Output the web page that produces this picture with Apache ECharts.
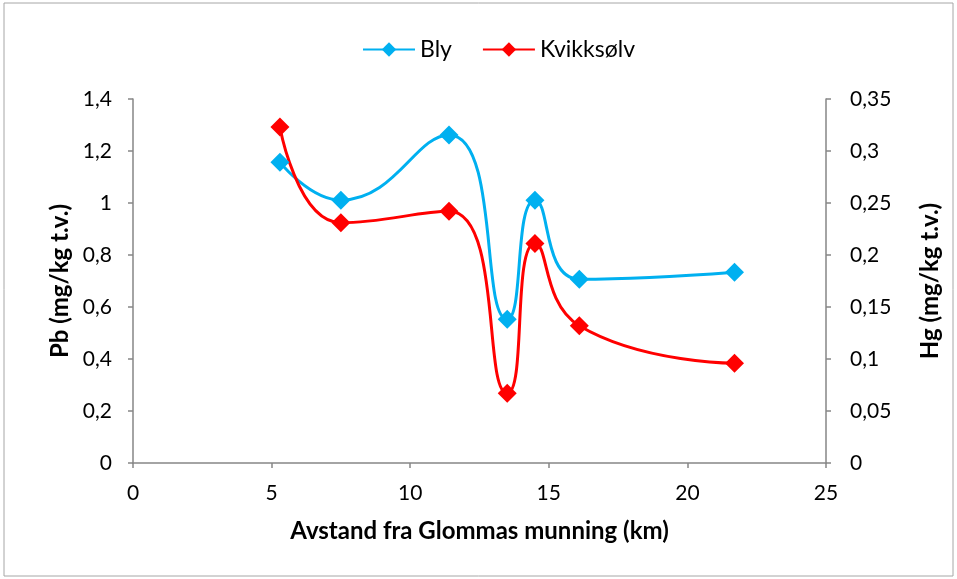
<!DOCTYPE html>
<html lang="no">
<head>
    <meta charset="UTF-8">
    <title>Bly og kvikksølv</title>
    <style>
        html, body { margin: 0; padding: 0; background: #fff; }
        #chart { width: 957px; height: 579px; }
    </style>
</head>
<body>
<div id="chart"></div>
<script src="https://cdn.jsdelivr.net/npm/echarts@6/dist/echarts.min.js"></script>
<script>
    // avstand (km) og konsentrasjoner lest av figuren
    var distance = [5.3, 7.5, 11.4, 13.5, 14.5, 16.1, 21.7];
    var pb = [1.157, 1.011, 1.262, 0.553, 1.011, 0.707, 0.734];
    var hg = [0.323, 0.231, 0.242, 0.067, 0.211, 0.132, 0.096];

    var font = 'Lato, "Open Sans", sans-serif';

    function comma(v) {
        return String(v).replace('.', ',');
    }

    function pairs(ys) {
        return distance.map(function (x, i) { return [x, ys[i]]; });
    }

    var _chart = echarts.init(document.getElementById('chart'));

    var axisLine = { lineStyle: { color: '#868686', width: 1.5 } };
    var axisTick = { show: true, length: 5, lineStyle: { color: '#868686', width: 1.5 } };
    var axisLabel = { color: '#000', fontSize: 21, fontFamily: font, formatter: comma };
    var nameStyle = { color: '#000', fontSize: 24, fontWeight: 'bold', fontFamily: font };

    var option = {
        animation: false,
        graphic: [{
            type: 'rect',
            shape: { x: 4, y: 3, width: 949, height: 573 },
            style: { fill: 'none', stroke: '#a6a6a6', lineWidth: 1 },
            silent: true
        }],
        legend: {
            top: 33,
            left: 357,
            itemWidth: 52,
            itemHeight: 18,
            itemGap: 30,
            textStyle: { color: '#000', fontSize: 23, fontFamily: font }
        },
        grid: { left: 133, right: 131, top: 99, bottom: 116 },
        xAxis: {
            type: 'value',
            min: 0, max: 25, interval: 5,
            name: 'Avstand fra Glommas munning (km)',
            nameLocation: 'middle',
            nameGap: 56,
            nameTextStyle: nameStyle,
            axisLine: axisLine,
            axisTick: axisTick,
            axisLabel: Object.assign({}, axisLabel, { margin: 20 }),
            splitLine: { show: false }
        },
        yAxis: [{
            type: 'value',
            min: 0, max: 1.4, interval: 0.2,
            name: 'Pb (mg/kg t.v.)',
            nameLocation: 'middle',
            nameGap: 59,
            nameTextStyle: nameStyle,
            axisLine: Object.assign({ show: true }, axisLine),
            axisTick: axisTick,
            axisLabel: Object.assign({}, axisLabel, { margin: 21 }),
            splitLine: { show: false }
        }, {
            type: 'value',
            min: 0, max: 0.35, interval: 0.05,
            name: 'Hg (mg/kg t.v.)',
            nameLocation: 'middle',
            nameGap: 92,
            nameTextStyle: nameStyle,
            axisLine: Object.assign({ show: true }, axisLine),
            axisTick: axisTick,
            axisLabel: Object.assign({}, axisLabel, { margin: 24 }),
            splitLine: { show: false }
        }],
        series: [{
            name: 'Bly',
            type: 'line',
            yAxisIndex: 0,
            smooth: 0.5,
            symbol: 'diamond',
            symbolSize: 19,
            itemStyle: { color: '#00B0F0' },
            lineStyle: { color: '#00B0F0', width: 3 },
            data: pairs(pb)
        }, {
            name: 'Kvikksølv',
            type: 'line',
            yAxisIndex: 1,
            smooth: 0.5,
            symbol: 'diamond',
            symbolSize: 19,
            itemStyle: { color: '#FF0000' },
            lineStyle: { color: '#FF0000', width: 3 },
            data: pairs(hg)
        }]
    };
    _chart.setOption(option, true);
</script>
</body>
</html>
